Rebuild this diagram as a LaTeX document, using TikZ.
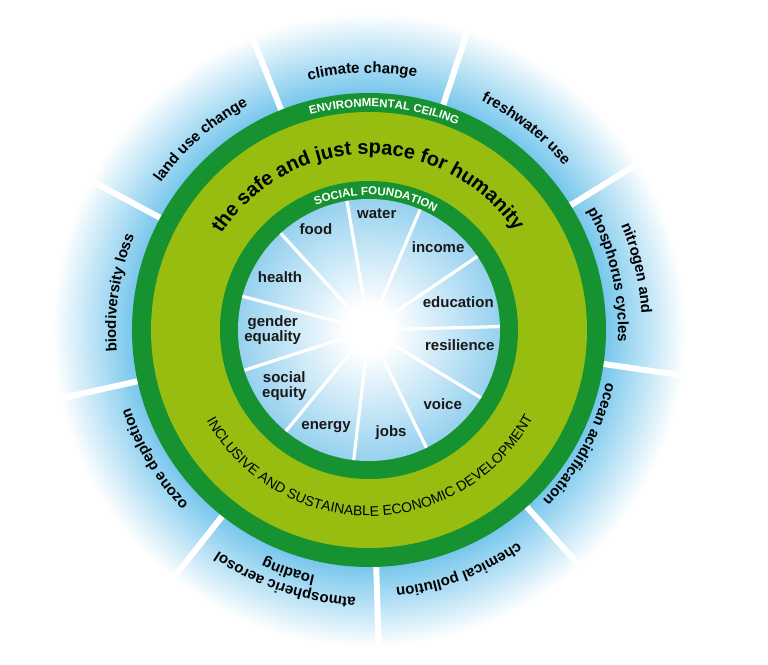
\documentclass[tikz,border=0pt]{standalone}
\usepackage{fontspec}
\setmainfont{Liberation Sans}
\usetikzlibrary{decorations.text}

\definecolor{ringgreen}{RGB}{22,146,48}
\definecolor{spacegreen}{RGB}{150,189,16}
\definecolor{glowblue}{RGB}{118,198,236}
\definecolor{paleblue}{RGB}{150,209,239}
\definecolor{labelblack}{RGB}{25,25,25}

\pgfdeclareradialshading{outerglow}{\pgfpoint{0bp}{0bp}}{color(0bp)=(glowblue); color(18.3bp)=(glowblue); color(24.6bp)=(white); color(50bp)=(white)}
\pgfdeclareradialshading{innerglow}{\pgfpoint{0bp}{0bp}}{color(0bp)=(white); color(4.5bp)=(white); color(25bp)=(paleblue); color(50bp)=(paleblue)}

\newcommand\sectorfont{\bfseries\fontsize{15}{15}\selectfont}
\newcommand\headfont{\bfseries\fontsize{20}{20}\selectfont}
\newcommand\bandfont{\bfseries\fontsize{11.5}{12}\selectfont\color{white}}
\newcommand\devfont{\fontsize{14}{14}\selectfont}

\begin{document}
\begin{tikzpicture}[x=1pt, y=1pt,
    sector/.style={font=\sectorfont, text=labelblack, align=center, inner sep=0pt},
    bigspoke/.style={white, line width=6pt},
    smallspoke/.style={white, line width=3.2pt},
    ringtext/.style={decorate, decoration={text along path, text align=center, text={#1}}}]
    \useasboundingbox (-369,-334) rectangle (399,330);
    \coordinate (c) at (0,0);

    % Draw boundary ring
    \shade[shading=outerglow] (c) circle[radius=322];
    \draw[bigspoke] (31.75:230) -- (31.75:330) (71.75:230) -- (71.75:330)
        (111.75:230) -- (111.75:330) (151.75:230) -- (151.75:330)
        (192.5:230) -- (192.5:330) (231.75:230) -- (231.75:330)
        (271.75:230) -- (271.75:330) (311.75:230) -- (311.75:330)
        (351.75:230) -- (351.75:330);

    % Draw green rings
    \fill[ringgreen] (c) circle[radius=237];
    \fill[spacegreen] (c) circle[radius=218];
    \fill[ringgreen] (c) circle[radius=149];

    % Draw inner circle
    \shade[shading=innerglow] (c) circle[radius=131];
    \draw[smallspoke] (c) -- (1.5:131) (c) -- (34.2:131) (c) -- (67:131)
        (c) -- (99.7:131) (c) -- (132.4:131) (c) -- (165.1:131)
        (c) -- (197.9:131) (c) -- (230.6:131) (c) -- (263.3:131)
        (c) -- (296:131) (c) -- (328.8:131);

    % Ring titles
    \path[ringtext={|\bandfont|ENVIRONMENTAL CEILING}] (166:223) arc[start angle=166, end angle=6, radius=223];
    \path[ringtext={|\bandfont|SOCIAL FOUNDATION}] (167:135) arc[start angle=167, end angle=7, radius=135];
    \path[ringtext={|\headfont|the safe and just space for humanity}] (170.5:176) arc[start angle=170.5, end angle=10.5, radius=176];
    \path[ringtext={|\devfont|INCLUSIVE AND SUSTAINABLE ECONOMIC DEVELOPMENT}] (185.5:186) arc[start angle=185.5, end angle=355.5, radius=186];

    % Boundary labels
    \path[ringtext={|\sectorfont|climate change}] (131.5:257) arc[start angle=131.5, end angle=51.5, radius=257];
    \path[ringtext={|\sectorfont|freshwater use}] (92:255) arc[start angle=92, end angle=12, radius=255];
    \path[ringtext={|\sectorfont|nitrogen and}] (53:273) arc[start angle=53, end angle=-27, radius=273];
    \path[ringtext={|\sectorfont|phosphorus cycles}] (53:249) arc[start angle=53, end angle=-27, radius=249];
    \path[ringtext={|\sectorfont|ocean acidification}] (371.5:243) arc[start angle=371.5, end angle=291.5, radius=243];
    \path[ringtext={|\sectorfont|chemical pollution}] (330.5:259) arc[start angle=330.5, end angle=250.5, radius=259];
    \path[ringtext={|\sectorfont|atmospheric aerosol}] (291.5:268) arc[start angle=291.5, end angle=211.5, radius=268];
    \path[ringtext={|\sectorfont|loading}] (291.5:251) arc[start angle=291.5, end angle=211.5, radius=251];
    \path[ringtext={|\sectorfont|ozone depletion}] (251:251) arc[start angle=251, end angle=171, radius=251];
    \path[ringtext={|\sectorfont|biodiversity loss}] (211.5:253) arc[start angle=211.5, end angle=131.5, radius=253];
    \path[ringtext={|\sectorfont|land use change}] (171.5:255) arc[start angle=171.5, end angle=91.5, radius=255];

    % Social foundation labels
    \node[sector] (water) at (86.2:117) {water};
    \node[sector] (income) at (50.2:108) {income};
    \node[sector] (education) at (17.6:93.7) {education};
    \node[sector] (resilience) at (-9.4:92) {resilience};
    \node[sector] (voice) at (-45.1:104.4) {voice};
    \node[sector] (jobs) at (-77.8:104.7) {jobs};
    \node[sector] (energy) at (-113.8:106.4) {energy};
    \node[sector] (equity) at (-146.7:101.4) {social\\equity};
    \node[sector] (gender) at (180:96.3) {gender\\equality};
    \node[sector] (health) at (149.1:103.7) {health};
    \node[sector] (food) at (117.8:113.8) {food};
\end{tikzpicture}
\end{document}
